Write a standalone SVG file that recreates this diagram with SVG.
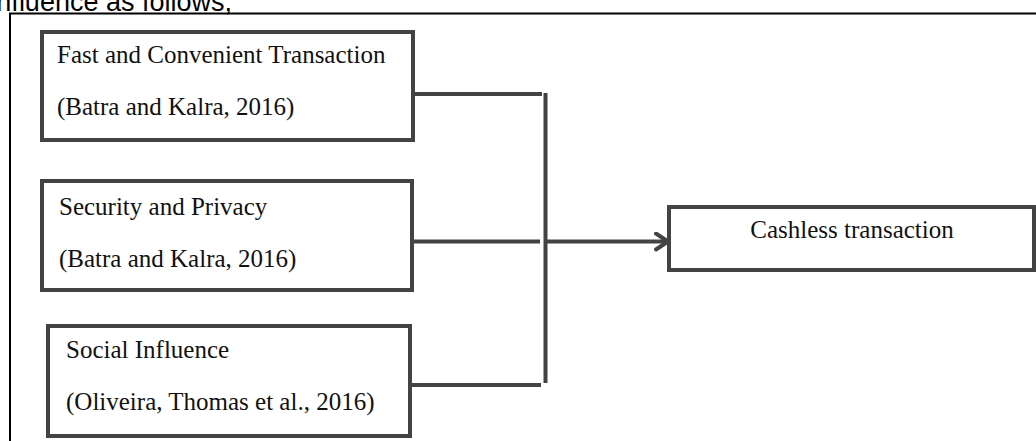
<svg xmlns="http://www.w3.org/2000/svg" width="1036" height="441" viewBox="0 0 1036 441">
<defs>
<style>
.box{fill:#fff;stroke:#434343;stroke-width:4}
.t{font-family:"Liberation Serif","Times New Roman",serif;font-size:25px;fill:#111}
.c{fill:none;stroke:#434343;stroke-width:4}
.frame{fill:none;stroke:#000;stroke-width:2}
</style>
<marker id="arr" markerWidth="20" markerHeight="20" refX="16" refY="10" orient="auto" markerUnits="userSpaceOnUse">
<path d="M4,2 L16,10 L4,18" fill="none" stroke="#434343" stroke-width="4" stroke-linecap="round" stroke-linejoin="round"/>
</marker>
</defs>
<rect width="1036" height="441" fill="#fff"/>
<text x="232" y="11" text-anchor="end" font-family="Liberation Sans, Arial, sans-serif" font-size="27" fill="#000">influence as follows,</text>
<path class="frame" d="M10,441 V13.5 H1036"/>
<g id="connectors">
<path class="c" d="M413,94 H542"/>
<path class="c" d="M412,241.5 H540"/>
<path class="c" d="M410,385 H541"/>
<path class="c" d="M545.5,93 V383"/>
<path class="c" d="M545,241.5 H668" marker-end="url(#arr)"/>
</g>
<g id="node1">
<rect class="box" x="42" y="32" width="371" height="108"/>
<text class="t" x="57" y="63">Fast and Convenient Transaction</text>
<text class="t" x="57" y="115">(Batra and Kalra, 2016)</text>
</g>
<g id="node2">
<rect class="box" x="42" y="181" width="370" height="109"/>
<text class="t" x="59" y="215">Security and Privacy</text>
<text class="t" x="59" y="267">(Batra and Kalra, 2016)</text>
</g>
<g id="node3">
<rect class="box" x="48" y="326" width="362" height="110"/>
<text class="t" x="66" y="358">Social Influence</text>
<text class="t" x="66" y="410">(Oliveira, Thomas et al., 2016)</text>
</g>
<g id="node4">
<rect class="box" x="669" y="207" width="365" height="63"/>
<text class="t" x="852" y="238" text-anchor="middle">Cashless transaction</text>
</g>
</svg>
